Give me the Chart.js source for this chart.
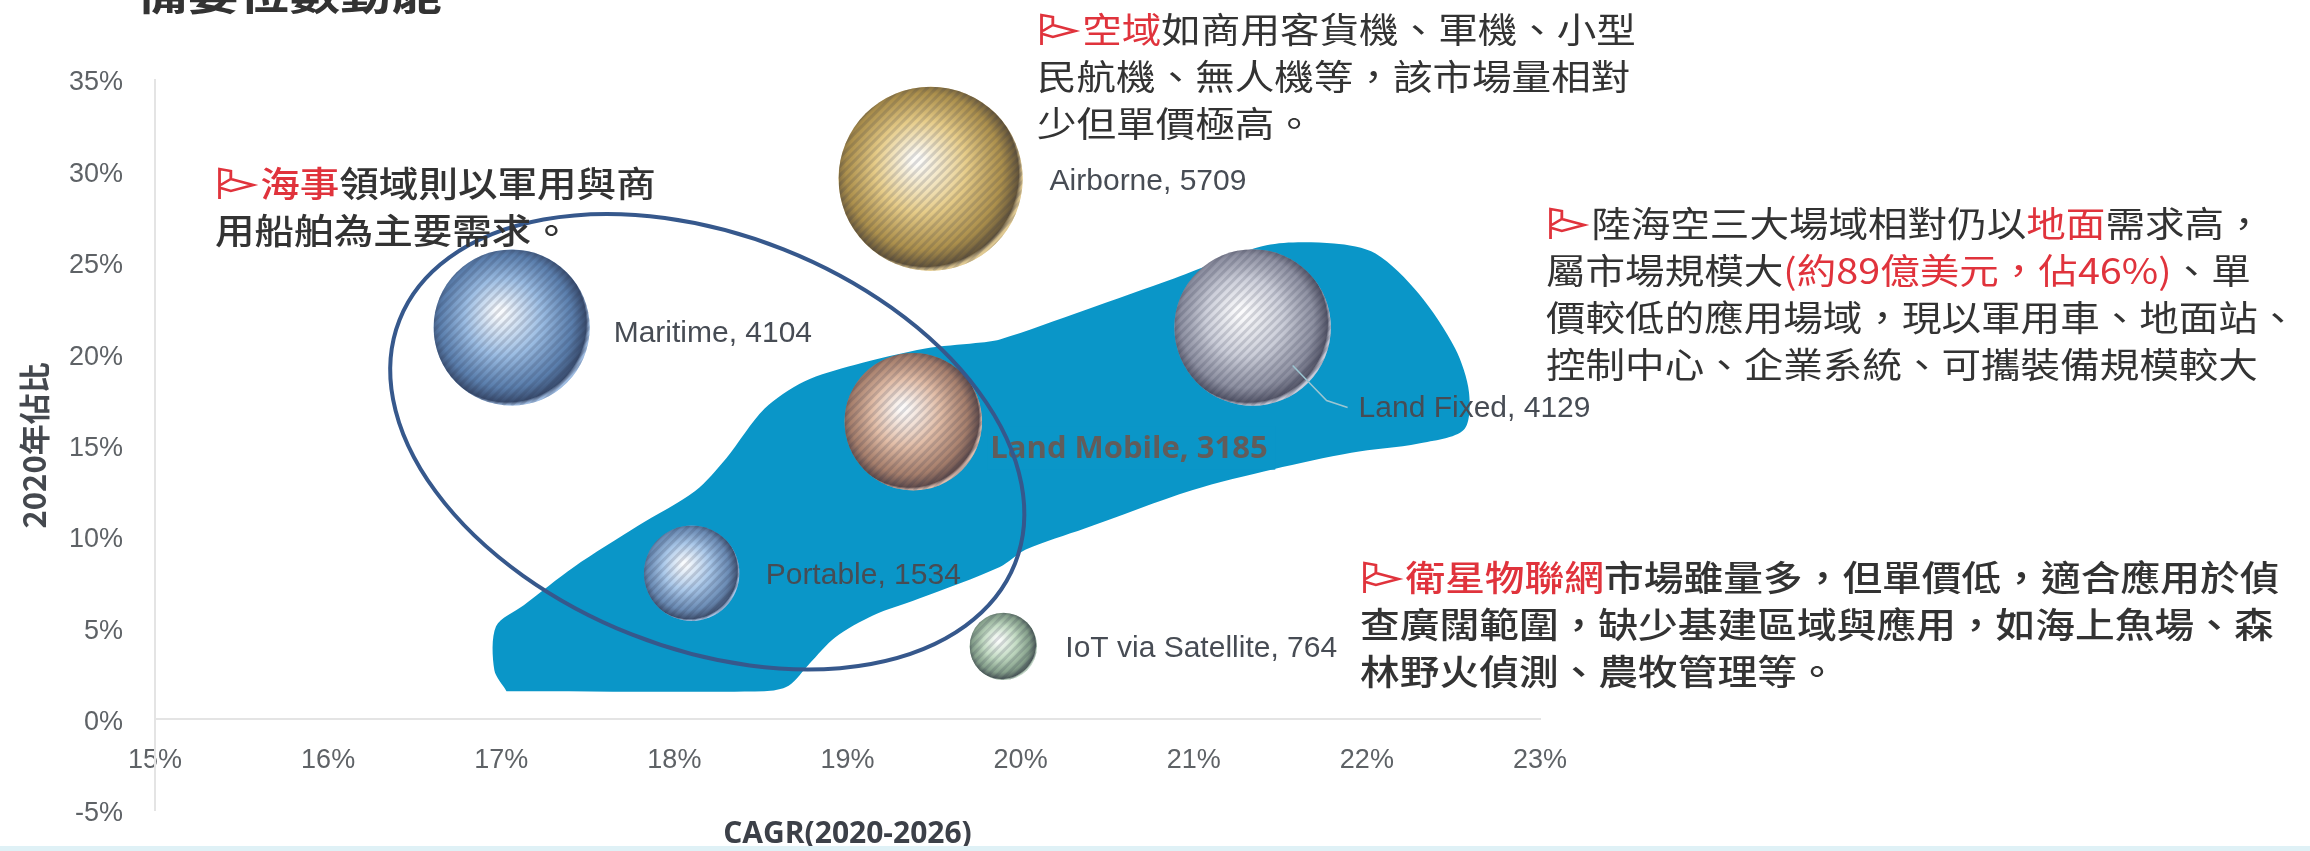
<!DOCTYPE html>
<html>
<head>
<meta charset="utf-8">
<script src="https://cdn.jsdelivr.net/npm/chart.js@4/dist/chart.umd.min.js"></script>
<style>
  html, body { margin: 0; padding: 0; background: #fff; }
  #wrap { position: relative; width: 2310px; height: 851px; overflow: hidden; }
  #bottomBand { position: absolute; left: 0; right: 0; top: 846px; height: 5px; background: #dff1f6; }
  .note { position: absolute; font-family: "Noto Sans CJK TC"; font-size: 35px; line-height: 47px; color: #333;
          white-space: nowrap; transform-origin: 0 0; transform: scaleX(1.13); }
  .note b { color: #e0333c; font-weight: inherit; }
  .flag { display: inline-block; width: 40px; height: 36px; vertical-align: -5px; }
</style>
</head>
<body>
<div id="wrap">
  <canvas id="chart" width="2310" height="851"></canvas>
  <svg width="0" height="0" style="position:absolute"><symbol id="pennant" viewBox="0 0 40 36"><path d="M4 33 L4 3 L14 5 L14 13 L34 19 L14 25 L5 22 M14 13 L5 19" fill="none" stroke="#e0333c" stroke-width="2.5"/></symbol></svg>
  <div class="note" style="left:137px;top:-32px;font-size:42px;font-weight:700;transform:scaleX(1.21)">備要位數動能</div>
  <div class="note" style="left:1037px;top:4px"><svg class="flag"><use href="#pennant"/></svg><b>空域</b>如商用客貨機、軍機、小型<br>民航機、無人機等，該市場量相對<br>少但單價極高。</div>
  <div class="note" style="left:215px;top:158px;font-weight:500"><svg class="flag"><use href="#pennant"/></svg><b>海事</b>領域則以軍用與商<br>用船舶為主要需求。</div>
  <div class="note" style="left:1546px;top:198px"><svg class="flag"><use href="#pennant"/></svg>陸海空三大場域相對仍以<b>地面</b>需求高，<br>屬市場規模大<b>(約89億美元，佔46%)</b>、單<br>價較低的應用場域，現以軍用車、地面站、<br>控制中心、企業系統、可攜裝備規模較大</div>
  <div class="note" style="left:1360px;top:552px;font-weight:500;transform:scaleX(1.135)"><svg class="flag"><use href="#pennant"/></svg><b>衛星物聯網</b>市場雖量多，但單價低，適合應用於偵<br>查廣闊範圍，缺少基建區域與應用，如海上魚場、森<br>林野火偵測、農牧管理等。</div>
  <div id="bottomBand"></div>
</div>
<script>
// values
const categories = ['Airborne', 'Maritime', 'Land Fixed', 'Land Mobile', 'Portable', 'IoT via Satellite'];
const cagr = [19.48, 17.06, 21.34, 19.38, 18.1, 19.9];
const share2020 = [29.6, 21.45, 21.45, 16.3, 8.0, 4.0];
const marketSize = [5709, 4104, 4129, 3185, 1534, 764];
const bubbleColors = ['#dcb655', '#6f9fd6', '#b5b8c8', '#d5a080', '#85b0e0', '#a8cba8'];

// blue region behind the bubbles
const regionX = [17.03, 16.96, 16.97, 17.13, 17.42, 17.79, 18.12, 18.30, 18.52, 18.75, 19.04, 19.45, 19.74, 19.88, 20.37, 20.89, 21.42, 21.81, 22.05, 22.30, 22.51, 22.59, 22.56, 22.30, 21.91, 21.46, 20.99, 20.37, 20.03, 19.88, 19.41, 19.15, 18.93, 18.78, 18.66, 18.52, 17.03];
const regionY = [1.55, 2.7, 5.1, 6.25, 8.35, 10.6, 12.5, 14.3, 17.0, 18.5, 19.4, 20.3, 20.6, 20.8, 22.4, 24.15, 25.95, 26.05, 25.5, 23.3, 20.3, 17.9, 15.85, 15.1, 14.6, 13.7, 12.55, 10.45, 9.3, 8.35, 6.6, 5.7, 4.5, 3.05, 1.85, 1.55, 1.55];

const xTicks = [15, 16, 17, 18, 19, 20, 21, 22, 23];
const yTicks = [-5, 0, 5, 10, 15, 20, 25, 30, 35];

const tickFont = { family: '"Liberation Sans"', size: 27 };

// label offset from the bubble centre, in px
const labelOffset = [[119, 3], [102, 6], [106, 81], [77, 28], [74, 2], [62, 2]];

const bubbleLook = {
  id: 'bubbleLook',
  afterDatasetsDraw(chart) {
    const ctx = chart.ctx;
    const meta = chart.getDatasetMeta(1);
    meta.data.forEach(el => {
      const r = el.options.radius;
      ctx.save();
      ctx.beginPath();
      ctx.arc(el.x, el.y, r, 0, Math.PI * 2);
      ctx.clip();
      // highlight top left, dark edge lower right
      const g = ctx.createRadialGradient(el.x - r * 0.15, el.y - r * 0.2, r * 0.05, el.x - r * 0.05, el.y - r * 0.05, r * 1.05);
      g.addColorStop(0, 'rgba(255,255,255,0.95)');
      g.addColorStop(0.45, 'rgba(255,255,255,0.3)');
      g.addColorStop(0.8, 'rgba(30,30,50,0.25)');
      g.addColorStop(0.96, 'rgba(20,20,40,0.6)');
      g.addColorStop(1, 'rgba(230,230,240,0.4)');
      ctx.fillStyle = g;
      ctx.fillRect(el.x - r, el.y - r, r * 2, r * 2);
      // diagonal hatch
      ctx.strokeStyle = 'rgba(40,50,70,0.17)';
      ctx.lineWidth = 3;
      ctx.beginPath();
      for (let d = -2 * r; d < 2 * r; d += 9) {
        ctx.moveTo(el.x + d - r, el.y + r);
        ctx.lineTo(el.x + d + r, el.y - r);
      }
      ctx.stroke();
      ctx.restore();
    });

    // Land Fixed leader line
    const lf = meta.data[2];
    ctx.strokeStyle = '#9cc6d2';
    ctx.lineWidth = 1.5;
    ctx.beginPath();
    ctx.moveTo(lf.x + 40, lf.y + 38);
    ctx.lineTo(lf.x + 74, lf.y + 73);
    ctx.lineTo(lf.x + 95, lf.y + 80);
    ctx.stroke();

    // bubble labels
    ctx.textBaseline = 'middle';
    ctx.textAlign = 'left';
    meta.data.forEach((el, i) => {
      if (categories[i] === 'Land Mobile') return;
      ctx.font = '400 30px "Liberation Sans"';
      ctx.fillStyle = '#474c54';
      ctx.fillText(categories[i] + ', ' + marketSize[i], el.x + labelOffset[i][0], el.y + labelOffset[i][1]);
    });

    // Land Mobile label sits on its own blue strip
    const lm = meta.data[3];
    ctx.fillStyle = '#0a96c8';
    ctx.fillRect(lm.x + 74, lm.y + 5, 288, 43);
    ctx.font = '700 31px "Open Sans"';
    ctx.fillStyle = '#625c5a';
    ctx.fillText(categories[3] + ', ' + marketSize[3], lm.x + labelOffset[3][0], lm.y + labelOffset[3][1]);

    // hand drawn ellipse around the maritime group, centre in axis units
    const sx = chart.scales.x, sy = chart.scales.y;
    ctx.strokeStyle = '#36588c';
    ctx.lineWidth = 4;
    ctx.beginPath();
    ctx.ellipse(sx.getPixelForValue(18.19), sy.getPixelForValue(15.2), 331, 207, 21.6 * Math.PI / 180, 0, Math.PI * 2);
    ctx.stroke();
  }
};

new Chart(document.getElementById('chart'), {
  type: 'bubble',
  data: {
    datasets: [
      {
        type: 'line',
        data: regionX.map((x, i) => ({ x: x, y: regionY[i] })),
        backgroundColor: '#0a96c8',
        borderColor: '#0a96c8',
        borderWidth: 0,
        pointRadius: 0,
        tension: 0.3,
        fill: 'shape',
        order: 2
      },
      {
        data: cagr.map((x, i) => ({ x: x, y: share2020[i], v: marketSize[i] })),
        backgroundColor: bubbleColors,
        borderWidth: 0,
        radius: ctx => 1.218 * Math.sqrt(ctx.raw.v),
        order: 1
      }
    ]
  },
  options: {
    responsive: false,
    animation: false,
    layout: { autoPadding: false, padding: { left: 0, top: 80, right: 770, bottom: 40 } },
    plugins: { legend: { display: false }, tooltip: { enabled: false } },
    scales: {
      x: {
        type: 'linear',
        min: 15, max: 23,
        position: { y: 0 },
        grid: { display: false },
        border: { color: '#e4e4e4', width: 2 },
        afterBuildTicks: s => { s.ticks = xTicks.map(v => ({ value: v })); },
        afterFit: s => { s.height = 133; },
        ticks: { font: tickFont, color: '#5e6266', padding: 17, maxRotation: 0, autoSkip: false, callback: v => v + '%' },
        title: { display: true, text: 'CAGR(2020-2026)', color: '#3c4048', font: { family: '"Open Sans"', size: 30, weight: '700' }, padding: 0 }
      },
      y: {
        min: -5, max: 35,
        grid: { display: false },
        border: { color: '#e4e4e4', width: 2 },
        afterBuildTicks: s => { s.ticks = yTicks.map(v => ({ value: v })); },
        afterFit: s => { s.width = 155; },
        ticks: { font: tickFont, color: '#5e6266', padding: 24, labelOffset: 3, callback: v => v + '%' },
        title: { display: true, text: '2020年佔比', color: '#44484e', font: { family: '"Noto Sans CJK TC"', size: 31, weight: '700' }, padding: { top: 16, bottom: 0 } }
      }
    }
  },
  plugins: [bubbleLook]
});
</script>
</body>
</html>
